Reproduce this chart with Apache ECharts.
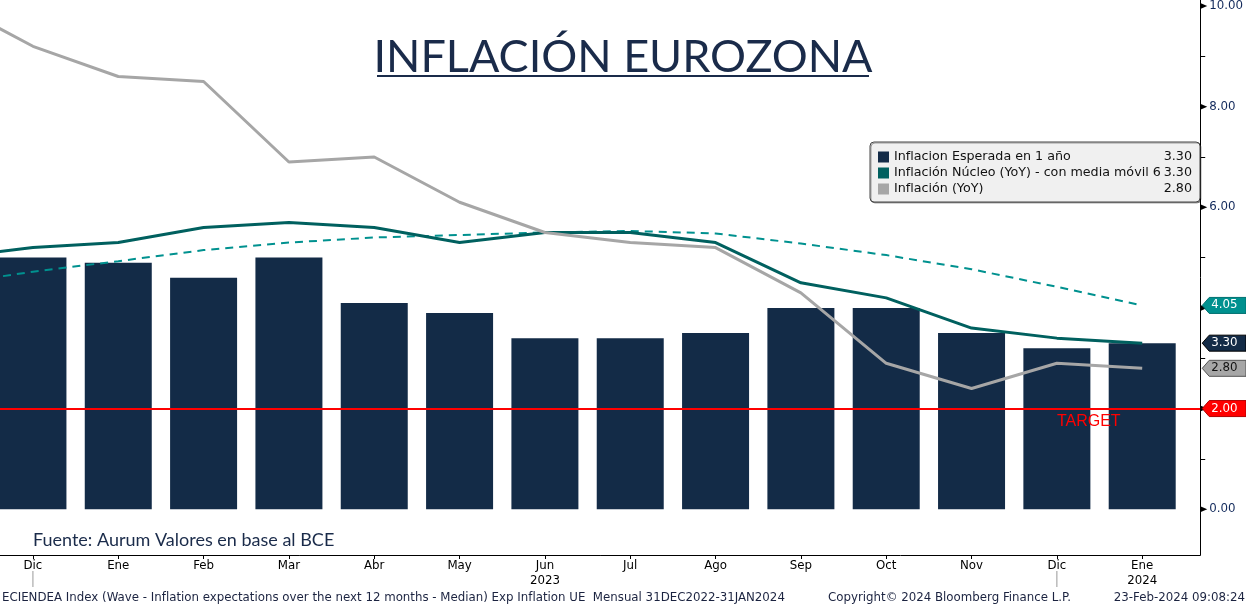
<!DOCTYPE html>
<html lang="es">
<head>
<meta charset="utf-8">
<script src="https://cdn.jsdelivr.net/npm/echarts@6/dist/echarts.min.js"></script>
</head>
<body style="margin:0;background:#fff">
<div id="container" style="width:1246px;height:607px"></div>
<script>
    // meses del eje (Dic 2022 .. Ene 2024)
    var meses = ['Dic', 'Ene', 'Feb', 'Mar', 'Abr', 'May', 'Jun', 'Jul', 'Ago', 'Sep', 'Oct', 'Nov', 'Dic', 'Ene'];
    var anios = {6: '2023', 13: '2024'};
    var ticksY = [0, 2, 4, 6, 8, 10];
    var objetivo = 2.0;

    // barras: inflacion esperada en 1 año
    var esperada = [5.0, 4.9, 4.6, 5.0, 4.1, 3.9, 3.4, 3.4, 3.5, 4.0, 4.0, 3.5, 3.2, 3.3];
    // lineas: empiezan en Nov 2022 (indice -1, queda fuera del grafico)
    var lineaInicio = -1;
    var nucleo = [5.0, 5.2, 5.3, 5.6, 5.7, 5.6, 5.3, 5.5, 5.5, 5.3, 4.5, 4.2, 3.6, 3.4, 3.3];
    var nucleoMedia6 = [4.47, 4.72, 4.93, 5.15, 5.30, 5.40, 5.45, 5.50, 5.53, 5.48, 5.28, 5.05, 4.77, 4.42, 4.05];
    var inflacion = [10.1, 9.2, 8.6, 8.5, 6.9, 7.0, 6.1, 5.5, 5.3, 5.2, 4.3, 2.9, 2.4, 2.9, 2.8];

    var navy = '#132b47', teal = '#00605f', tealClaro = '#00918f', gris = '#a6a6a6';
    var fuenteBbg = '"DejaVu Sans", Verdana, sans-serif';

    function pares(arr, inicio) {
        return arr.map(function (v, k) { return [inicio + k, v]; });
    }
    function ultimo(arr) { return arr[arr.length - 1]; }

    var nombres = ['Inflacion Esperada en 1 año', 'Inflación Núcleo (YoY) - con media móvil 6', 'Inflación (YoY)'];
    var ultimos = {};
    ultimos[nombres[0]] = ultimo(esperada).toFixed(2);
    ultimos[nombres[1]] = ultimo(nucleo).toFixed(2);
    ultimos[nombres[2]] = ultimo(inflacion).toFixed(2);

    var xMin = -0.386, xMax = 13.68;
    var ejeIdx = meses.map(function (m, i) { return i; });

    var chart = echarts.init(document.getElementById('container'), null, {renderer: 'canvas'});

    var option = {
        animation: false,
        backgroundColor: '#fff',
        grid: {left: 0, right: 45, top: 0, bottom: 52},
        legend: {
            data: nombres,
            orient: 'vertical',
            left: 870,
            top: 142,
            padding: [8, 8, 6, 8],
            itemWidth: 11,
            itemHeight: 11,
            itemGap: 2,
            itemTextGap: 5,
            icon: 'rect',
            backgroundColor: '#f0f0f0',
            borderColor: '#444',
            borderWidth: 1,
            borderRadius: 4,
            shadowColor: 'rgba(0,0,0,0.35)',
            shadowOffsetX: 1,
            shadowOffsetY: 1,
            selectedMode: false,
            formatter: function (name) {
                return '{n|' + name + '}{v|' + ultimos[name] + '}';
            },
            textStyle: {
                color: '#111',
                fontSize: 12.7,
                fontFamily: fuenteBbg,
                lineHeight: 14,
                rich: {
                    n: {width: 270, fontSize: 12.7, fontFamily: fuenteBbg, color: '#111'},
                    v: {width: 28, align: 'right', fontSize: 12.7, fontFamily: fuenteBbg, color: '#111'}
                }
            }
        },
        xAxis: {
            type: 'value',
            min: xMin,
            max: xMax,
            splitLine: {show: false},
            axisLine: {show: true, onZero: false, lineStyle: {color: '#000', width: 1}},
            axisTick: {show: true, customValues: ejeIdx, length: 4, lineStyle: {color: '#000'}},
            axisLabel: {
                customValues: ejeIdx,
                margin: 3,
                color: '#000',
                fontSize: 11.8,
                lineHeight: 15,
                fontFamily: fuenteBbg,
                formatter: function (v) {
                    return meses[v] + (anios[v] ? '\n' + anios[v] : '');
                }
            }
        },
        yAxis: {
            type: 'value',
            position: 'right',
            min: -0.91,
            max: 10.12,
            splitLine: {show: false},
            axisLine: {show: true, onZero: false, lineStyle: {color: '#000', width: 1}},
            axisTick: {show: true, customValues: [1, 3, 5, 7, 9], length: 5, lineStyle: {color: '#000'}},
            axisLabel: {
                customValues: ticksY,
                margin: 9,
                color: '#10285a',
                fontSize: 11.8,
                fontFamily: fuenteBbg,
                formatter: function (v) { return v.toFixed(2); }
            }
        },
        series: [
            {
                name: nombres[0],
                type: 'bar',
                barWidth: 67,
                itemStyle: {color: navy},
                data: pares(esperada, 0),
                z: 2,
                markLine: {
                    silent: true,
                    symbol: 'none',
                    label: {show: false},
                    lineStyle: {color: '#ff0000', width: 2, type: 'solid'},
                    data: [{yAxis: objetivo}]
                }
            },
            {
                name: 'media6',
                type: 'line',
                symbol: 'none',
                lineStyle: {color: tealClaro, width: 2, type: [8, 6]},
                itemStyle: {color: tealClaro},
                data: pares(nucleoMedia6, lineaInicio),
                z: 3
            },
            {
                name: nombres[1],
                type: 'line',
                symbol: 'none',
                lineStyle: {color: teal, width: 3},
                itemStyle: {color: teal},
                data: pares(nucleo, lineaInicio),
                z: 4
            },
            {
                name: nombres[2],
                type: 'line',
                symbol: 'none',
                lineStyle: {color: gris, width: 3},
                itemStyle: {color: gris},
                data: pares(inflacion, lineaInicio),
                z: 5
            }
        ]
    };

    chart.setOption(option);

    var xEje = chart.convertToPixel({xAxisIndex: 0}, xMax);

    // etiquetas del eje derecho (tapan la etiqueta del eje que queda debajo)
    function etiqueta(valor, fondo, borde, colorTexto) {
        var y = chart.convertToPixel({yAxisIndex: 0}, valor);
        var x0 = xEje + 2;
        return [
            {type: 'polygon', z: 100,
                shape: {points: [[x0, y], [x0 + 7, y - 8], [1246, y - 8], [1246, y + 8], [x0 + 7, y + 8]]},
                style: {fill: fondo, stroke: borde, lineWidth: 1}},
            {type: 'text', z: 101,
                style: {text: valor.toFixed(2), x: x0 + 9, y: y, align: 'left', verticalAlign: 'middle',
                    textAlign: 'left', textVerticalAlign: 'middle', fill: colorTexto, font: '11.8px ' + fuenteBbg}}
        ];
    }

    // marcas triangulares en las etiquetas principales del eje Y
    function triangulo(valor) {
        var y = chart.convertToPixel({yAxisIndex: 0}, valor);
        return {type: 'polygon', z: 50,
            shape: {points: [[xEje, y - 3], [xEje + 7, y], [xEje, y + 3]]},
            style: {fill: '#000'}};
    }

    var yObj = chart.convertToPixel({yAxisIndex: 0}, objetivo);
    var xDic0 = chart.convertToPixel({xAxisIndex: 0}, 0);
    var xDic12 = chart.convertToPixel({xAxisIndex: 0}, 12);
    var xTarget = chart.convertToPixel({xAxisIndex: 0}, 12);

    var graficos = [
        {type: 'text', z: 100, style: {text: 'INFLACIÓN EUROZONA', x: 623, y: 57, align: 'center', verticalAlign: 'middle',
            textAlign: 'center', textVerticalAlign: 'middle', fill: '#1a2b4a', font: '45px Lato, "Open Sans", sans-serif'}},
        {type: 'line', z: 100, shape: {x1: 377, y1: 76, x2: 869, y2: 76}, style: {stroke: '#1a2b4a', lineWidth: 2}},
        {type: 'text', z: 100, style: {text: 'Fuente: Aurum Valores en base al BCE', x: 33, y: 540, align: 'left', verticalAlign: 'middle',
            textAlign: 'left', textVerticalAlign: 'middle', fill: '#1a2b4a', font: '18px Lato, "Open Sans", sans-serif'}},
        {type: 'text', z: 100, style: {text: 'TARGET', x: xTarget, y: yObj + 13, align: 'left', verticalAlign: 'middle',
            textAlign: 'left', textVerticalAlign: 'middle', fill: '#ff0000', font: '16px "Liberation Sans", Arial, sans-serif'}},
        {type: 'line', z: 100, shape: {x1: xDic0, y1: 571, x2: xDic0, y2: 587}, style: {stroke: '#999', lineWidth: 1}},
        {type: 'line', z: 100, shape: {x1: xDic12, y1: 571, x2: xDic12, y2: 587}, style: {stroke: '#999', lineWidth: 1}},
        {type: 'text', z: 100, style: {text: 'ECIENDEA Index (Wave - Inflation expectations over the next 12 months - Median) Exp Inflation UE  Mensual 31DEC2022-31JAN2024',
            x: 2, y: 598, align: 'left', verticalAlign: 'middle', textAlign: 'left', textVerticalAlign: 'middle', fill: '#1b2340', font: '11.8px ' + fuenteBbg}},
        {type: 'text', z: 100, style: {text: 'Copyright© 2024 Bloomberg Finance L.P.', x: 828, y: 598, align: 'left', verticalAlign: 'middle',
            textAlign: 'left', textVerticalAlign: 'middle', fill: '#1b2340', font: '11.8px ' + fuenteBbg}},
        {type: 'text', z: 100, style: {text: '23-Feb-2024 09:08:24', x: 1245, y: 598, align: 'right', verticalAlign: 'middle',
            textAlign: 'right', textVerticalAlign: 'middle', fill: '#1b2340', font: '11.8px ' + fuenteBbg}}
    ].concat(
        ticksY.map(triangulo),
        etiqueta(ultimo(nucleoMedia6), tealClaro, '#007070', '#fff'),
        etiqueta(ultimo(esperada), navy, '#000', '#fff'),
        etiqueta(ultimo(inflacion), gris, '#555', '#111'),
        etiqueta(objetivo, '#ff0000', '#b00000', '#fff')
    );

    chart.setOption({graphic: graficos});

    window.addEventListener('resize', chart.resize);
</script>
</body>
</html>
